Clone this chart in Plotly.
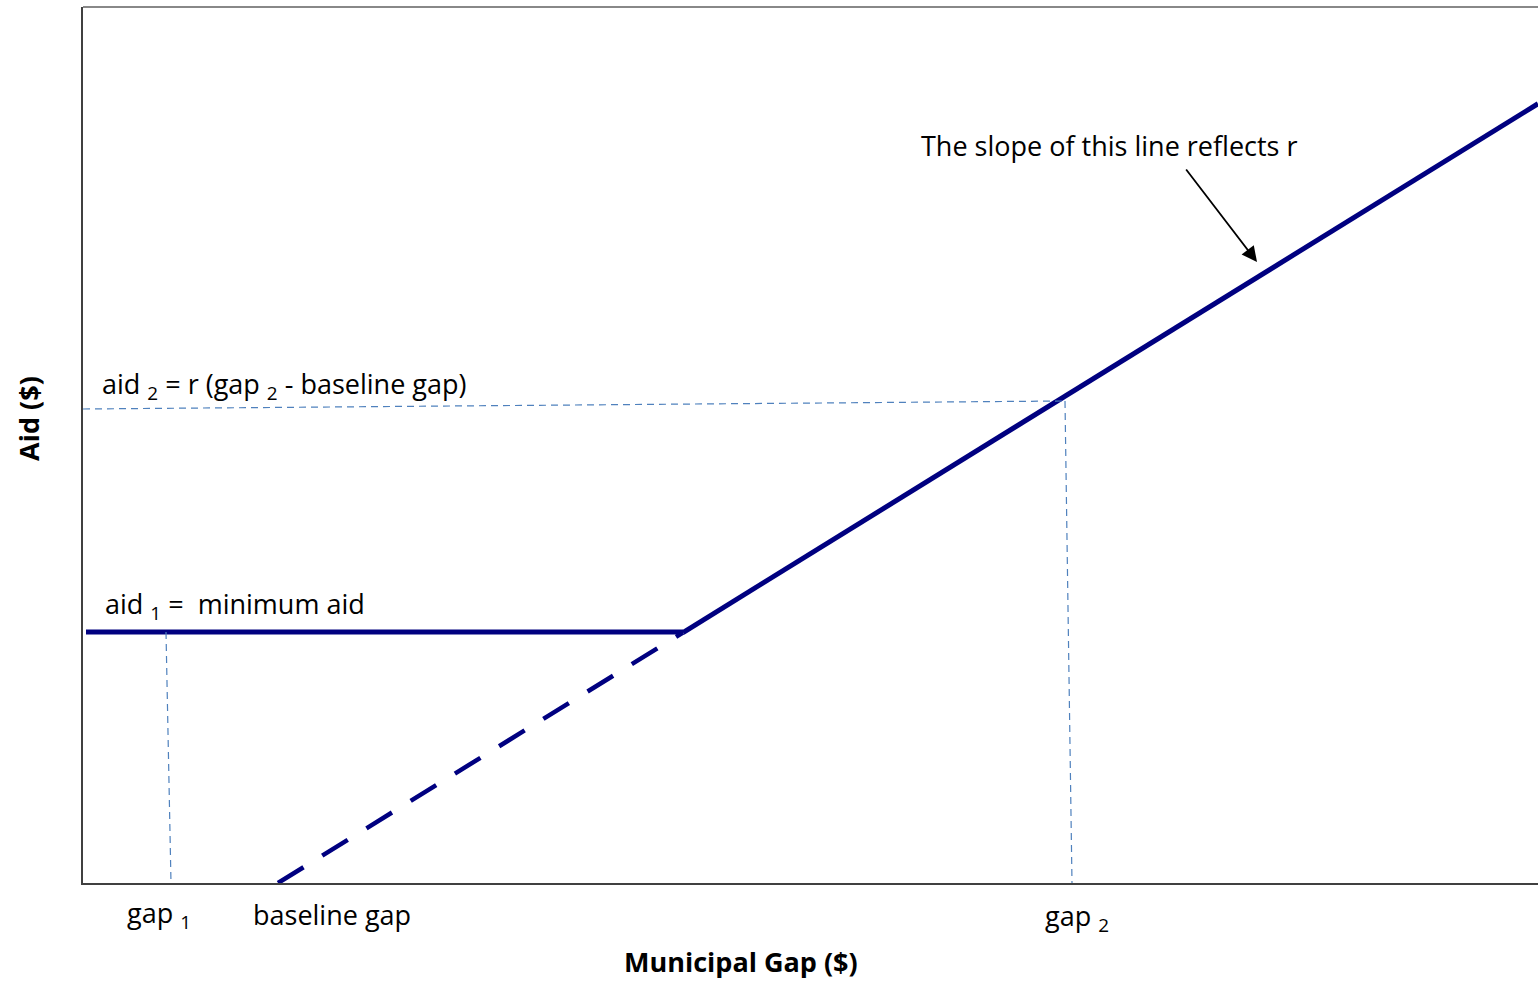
import plotly.graph_objects as go

# Diagram values (in arbitrary units)
min_aid = 251          # aid 1 = minimum aid level
baseline_gap = 195     # gap where formula aid crosses zero
kink_gap = 600         # gap where formula aid equals minimum aid
max_gap = 1455
slope_r = 0.6185
gap1_x = [83, 88]
gap1_y = [251, 0]
gap2_x = [982, 989]
gap2_y = [482, 0]
aid2_x = [0, 982]
aid2_y = [474, 482]

NAVY = "#000080"
GUIDE = "#4F81BD"
FONT = "Open Sans"

def formula(g):
    return slope_r * (g - baseline_gap)

fig = go.Figure()
# minimum aid line
fig.add_trace(go.Scatter(x=[3, kink_gap], y=[min_aid, min_aid], mode="lines",
                         line=dict(color=NAVY, width=5), hoverinfo="skip"))
# dashed formula segment below minimum
fig.add_trace(go.Scatter(x=[baseline_gap, kink_gap], y=[formula(baseline_gap), formula(kink_gap)],
                         mode="lines", line=dict(color=NAVY, width=4.5, dash="30px,22px"),
                         hoverinfo="skip"))
# solid formula line
fig.add_trace(go.Scatter(x=[kink_gap, max_gap], y=[formula(kink_gap), formula(max_gap)],
                         mode="lines", line=dict(color=NAVY, width=5), hoverinfo="skip"))
# guide lines
for xs, ys in [(gap1_x, gap1_y), (gap2_x, gap2_y), (aid2_x, aid2_y)]:
    fig.add_trace(go.Scatter(x=xs, y=ys, mode="lines",
                             line=dict(color=GUIDE, width=1.2, dash="7px,5px"), hoverinfo="skip"))

txt = dict(family=FONT, size=27, color="black")
anns = [
    dict(x=17, y=498, shift=0, text="aid <sub>2</sub> = r (gap <sub>2</sub> - baseline gap)", xanchor="left"),
    dict(x=20, y=278, shift=0, text="aid <sub>1</sub> =  minimum aid", xanchor="left"),
    dict(x=42, y=0, shift=-31, text="gap <sub>1</sub>", xanchor="left"),
    dict(x=168, y=0, shift=-31, text="baseline gap", xanchor="left"),
    dict(x=960, y=0, shift=-34, text="gap <sub>2</sub>", xanchor="left"),
    dict(x=1026, y=738, shift=0, text="The slope of this line reflects r", xanchor="center"),
]
for a in anns:
    fig.add_annotation(x=a["x"], y=a["y"], yshift=a["shift"], text=a["text"], xanchor=a["xanchor"],
                       yanchor="middle", showarrow=False, font=txt, xref="x", yref="y")
# arrow
fig.add_annotation(x=1174, y=621, ax=1102, ay=715, axref="x", ayref="y", xref="x", yref="y",
                   text="", showarrow=True, arrowhead=2, arrowsize=1.7, arrowwidth=1.8,
                   arrowcolor="black")
# axis titles
fig.add_annotation(x=0.452, y=-0.09, xref="paper", yref="paper", text="<b>Municipal Gap ($)</b>",
                   showarrow=False, font=dict(family=FONT, size=27, color="black"), yanchor="middle")
fig.add_annotation(x=-0.037, y=0.53, xref="paper", yref="paper", text="<b>Aid ($)</b>",
                   showarrow=False, textangle=-90, font=dict(family=FONT, size=27, color="black"),
                   xanchor="center")
# top border
fig.add_shape(type="line", xref="paper", yref="paper", x0=0, x1=1, y0=1, y1=1,
              line=dict(color="#888888", width=2))

fig.update_layout(
    width=1538, height=984, showlegend=False,
    paper_bgcolor="white", plot_bgcolor="white",
    margin=dict(l=83, r=0, t=7, b=101),
    xaxis=dict(range=[0, max_gap], showgrid=False, zeroline=False, showticklabels=False,
               ticks="", showline=True, linecolor="#404040", linewidth=2),
    yaxis=dict(range=[0, 876], showgrid=False, zeroline=False, showticklabels=False,
               ticks="", showline=True, linecolor="#404040", linewidth=2),
)
fig.write_html("out.html", config={"displayModeBar": False},
               post_script="document.body.style.margin='0';")
